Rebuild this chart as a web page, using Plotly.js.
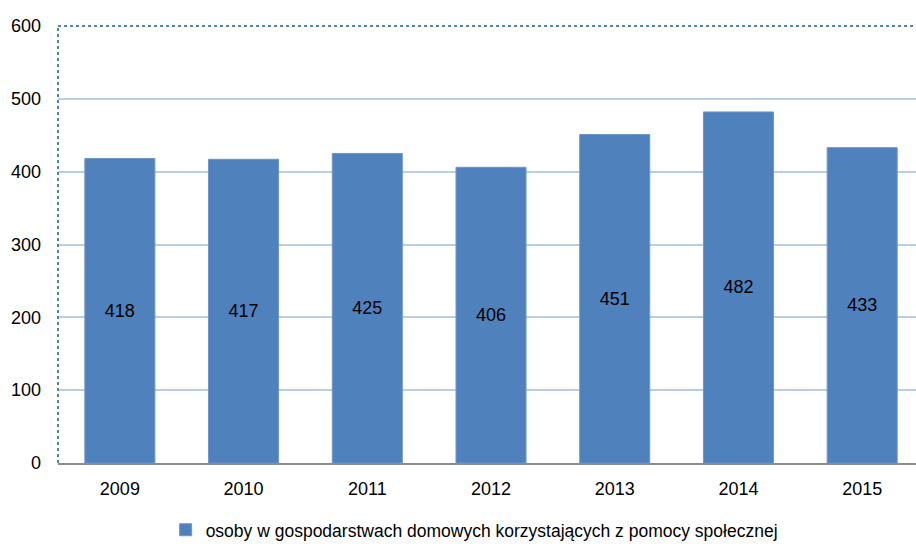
<!DOCTYPE html>
<html>
<head>
<meta charset="utf-8">
<script src="https://cdn.plot.ly/plotly-3.0.1.min.js"></script>
<style>
  html, body { margin: 0; padding: 0; background: #fff; overflow: hidden; }
  #chart { width: 916px; height: 547px; }
</style>
</head>
<body>
<div id="chart"></div>
<script>
const years = ['2009', '2010', '2011', '2012', '2013', '2014', '2015']
const persons = [418, 417, 425, 406, 451, 482, 433]
const seriesName = 'osoby w gospodarstwach domowych korzystających z pomocy społecznej'

const blue = '#4f81bd'
const font = 'Liberation Sans, Arial, sans-serif'

const trace = {
  type: 'bar',
  x: years,
  y: persons,
  name: seriesName,
  marker: {color: blue, line: {color: '#6f95c8', width: 1}},
  text: persons.map(String),
  textposition: 'inside',
  insidetextanchor: 'middle',
  textangle: 0,
  textfont: {family: font, size: 18, color: '#000'},
  hoverinfo: 'none',
  showlegend: true,
}

const layout = {
  width: 916,
  height: 547,
  margin: {l: 58, r: 0, t: 26, b: 84, pad: 0, autoexpand: false},
  paper_bgcolor: '#fff',
  plot_bgcolor: '#fff',
  font: {family: font, size: 18, color: '#000'},
  bargap: 0.434,
  showlegend: true,
  legend: {
    orientation: 'h',
    x: 0.485,
    xanchor: 'center',
    y: -0.153,
    yanchor: 'middle',
    font: {family: font, size: 17.5, color: '#000'},
    itemwidth: 30,
  },
  xaxis: {
    type: 'category',
    range: [-0.5, 6.435],
    showgrid: false,
    showline: true,
    linecolor: '#8c8c8c',
    linewidth: 2,
    ticks: '',
    ticklabelstandoff: 8,
    tickfont: {family: font, size: 18, color: '#000'},
  },
  yaxis: {
    range: [0, 600],
    tickvals: [0, 100, 200, 300, 400, 500, 600],
    showgrid: true,
    gridcolor: '#b9cde5',
    gridwidth: 2,
    zeroline: false,
    showline: false,
    ticks: '',
    ticklabelstandoff: 16,
    tickfont: {family: font, size: 18, color: '#000'},
  },
  shapes: [
    {type: 'line', xref: 'paper', yref: 'paper', x0: 0, x1: 1, y0: 1, y1: 1,
      line: {color: blue, width: 2, dash: 'dot'}},
    {type: 'line', xref: 'paper', yref: 'paper', x0: 0, x1: 0, y0: 0, y1: 1,
      line: {color: blue, width: 2, dash: 'dot'}},
  ],
}

Plotly.newPlot('chart', [trace], layout, {staticPlot: true, displayModeBar: false})
</script>
</body>
</html>
